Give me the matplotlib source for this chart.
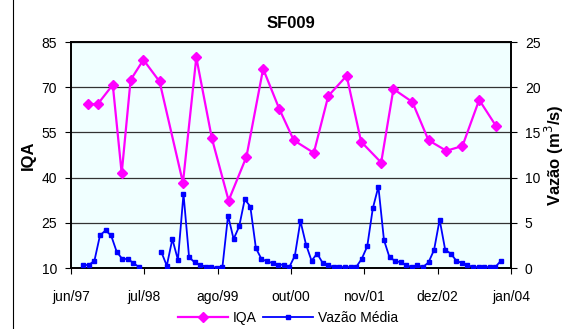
import numpy as np
import matplotlib
matplotlib.use("Agg")
import matplotlib.pyplot as plt
from matplotlib.lines import Line2D

# Dados (eixo x em meses contados a partir de jun/97)
iqa_meses = [2.9, 4.6, 7.3, 8.9, 10.5, 12.8, 15.7, 19.9, 22.3, 25.1, 28.1, 31.3,
             34.3, 37.2, 39.8, 43.4, 46.0, 49.3, 51.9, 55.5, 57.7, 61.1, 64.0,
             67.2, 70.1, 73.1, 76.1]
iqa_valores = [64.4, 64.4, 70.8, 41.4, 72.4, 79.1, 71.9, 38.3, 79.9, 53.0, 32.4,
               46.9, 76.1, 62.8, 52.4, 48.2, 67.1, 73.8, 51.9, 45.0, 69.4, 65.1,
               52.4, 48.9, 50.5, 65.8, 57.2]

vazao_meses = list(range(2, 78))
vazao_valores = [0.33, 0.33, 0.8, 3.6, 4.16, 3.6, 1.8, 1.0, 1.0, 0.55, 0.1,
                 np.nan, np.nan, np.nan,
                 1.8, 0.25, 3.2, 0.9, 8.2, 1.2, 0.62, 0.33, 0.15, 0.15, 0.0, 0.15,
                 5.8, 3.2, 4.6, 7.6, 6.8, 2.2, 1.0, 0.73, 0.55, 0.37, 0.37, 0.1,
                 1.36, 5.2, 2.6, 0.8, 1.6, 0.55, 0.33, 0.1, 0.1, 0.1, 0.1, 0.1,
                 1.0, 2.4, 6.6, 9.0, 3.1, 1.17, 0.8, 0.62, 0.33, 0.1, 0.33, 0.1,
                 0.62, 2.0, 5.35, 2.0, 1.6, 0.8, 0.55, 0.33, 0.1, 0.1, 0.1, 0.1,
                 0.1, 0.8]

rotulos_x = ["jun/97", "jul/98", "ago/99", "out/00", "nov/01", "dez/02", "jan/04"]
ticks_iqa = [10, 25, 40, 55, 70, 85]
ticks_vazao = [0, 5, 10, 15, 20, 25]

plt.rcParams['font.family'] = ['Liberation Sans', 'DejaVu Sans']

fig = plt.figure(figsize=(5.76, 3.29), dpi=100)
ax = fig.add_axes([0.1233, 0.1854, 0.7637, 0.6869])
ax2 = ax.twinx()

# moldura do gráfico (borda esquerda visível)
fig.add_artist(Line2D([13 / 576, 13 / 576], [0, 1], color="black", linewidth=0.8))

xmin, xmax = -0.2, 78.8
ax.set_xlim(xmin, xmax)
ax.set_ylim(10, 85)
ax2.set_ylim(0, 25)

ax.set_facecolor("#F0FFFF")
ax.set_yticks(ticks_iqa)
ax.yaxis.grid(True, color="#333333", linewidth=0.9)
ax.set_axisbelow(True)
ax2.set_yticks(ticks_vazao)
ax.set_xticks(np.linspace(xmin, xmax, len(rotulos_x)))
ax.set_xticklabels(rotulos_x)

l1, = ax.plot(iqa_meses, iqa_valores, color="#FF00FF", linewidth=1.6,
              marker="D", markersize=5.5, label="IQA", zorder=3)
l2, = ax2.plot(vazao_meses, vazao_valores, color="#0000FF", linewidth=1.3,
               marker="s", markersize=3, label="Vazão Média", zorder=3)

for a in (ax, ax2):
    a.tick_params(labelsize=10, length=4, width=0.8, direction="out")
    for s in a.spines.values():
        s.set_linewidth(1.2)
ax.tick_params(axis="x", pad=12)
ax.tick_params(axis="y", pad=6)
ax2.tick_params(axis="y", pad=6)

ax.set_ylabel("IQA", fontsize=12, fontweight="bold", labelpad=4)
ax2.set_ylabel("Vazão (m$^{3}$/s)", fontsize=12, fontweight="bold", labelpad=2)
ax.set_title("SF009", fontsize=12, fontweight="bold", pad=10)

fig.legend(handles=[l1, l2], loc="lower center", bbox_to_anchor=(0.5, -0.025),
           ncol=2, frameon=False, fontsize=10, handlelength=3.6,
           columnspacing=0.5, handletextpad=0.3)

fig.savefig("out.png", dpi=100)
